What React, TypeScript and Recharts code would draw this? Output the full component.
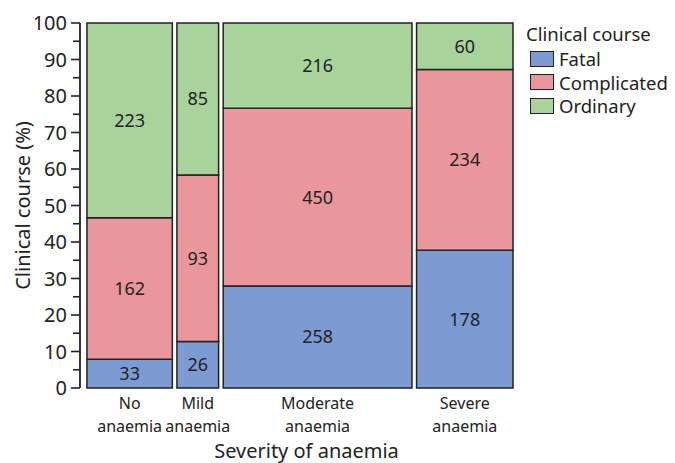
import React from "react";
import {
    ComposedChart,
    XAxis,
    YAxis,
    ReferenceArea,
    Line
} from "recharts";

// severity groups and counts per clinical course
const categoryLines = [
    ["No", "anaemia"],
    ["Mild", "anaemia"],
    ["Moderate", "anaemia"],
    ["Severe", "anaemia"]
];
const fatal = [33, 26, 258, 178];
const complicated = [162, 93, 450, 234];
const ordinary = [223, 85, 216, 60];
const courses = ["Fatal", "Complicated", "Ordinary"];
const courseColors = ["#7b9bd2", "#e9979c", "#a8d39b"];
const yTicks = [0, 5, 10, 15, 20, 25, 30, 35, 40, 45, 50, 55, 60, 65, 70, 75, 80, 85, 90, 95, 100];

const GAP = 22.5;
const LEFT_PAD = 34;
const FONT = "'Noto Sans', sans-serif";
const INK = "#222";

const series = [fatal, complicated, ordinary];
const totals = fatal.map((_, i) => fatal[i] + complicated[i] + ordinary[i]);

// column extents along the x scale (counts + gaps)
let cursor = 0;
const columns = totals.map((t, i) => {
    const x1 = cursor;
    const x2 = cursor + t;
    cursor = x2 + GAP;
    return { idx: i, x1, x2, center: (x1 + x2) / 2, top: 100 };
});
const xMax = cursor - GAP;

const cells: any[] = [];
columns.forEach((col) => {
    let acc = 0;
    series.forEach((s, k) => {
        const v = s[col.idx];
        const y1 = (acc / totals[col.idx]) * 100;
        acc += v;
        const y2 = (acc / totals[col.idx]) * 100;
        cells.push({ key: `${col.idx}-${k}`, x1: col.x1, x2: col.x2, y1, y2, value: v, color: courseColors[k] });
    });
});

const YTick = (props: any) => {
    const { x, y, payload } = props;
    const major = payload.value % 10 === 0;
    return (
        <g>
            <line x1={x - (major ? 9 : 7)} x2={x} y1={y} y2={y} stroke={INK} strokeWidth={1.6} />
            {major && (
                <text x={x - 13} y={y} dy="0.36em" textAnchor="end" fontSize={20} fill={INK} fontFamily={FONT}>
                    {payload.value}
                </text>
            )}
        </g>
    );
};

const XTick = (props: any) => {
    const { x, y, index } = props;
    const lines = categoryLines[index] || [];
    return (
        <g>
            {lines.map((l, i) => (
                <text key={i} x={x} y={y + 21 + i * 23} textAnchor="middle" fontSize={16} fill={INK} fontFamily={FONT}>
                    {l}
                </text>
            ))}
        </g>
    );
};

const LegendBox = () => (
    <div style={{ position: "absolute", top: 14, left: 518, width: 150, fontFamily: FONT, color: INK }}>
        <div style={{ fontSize: 18.5, lineHeight: "24px", marginBottom: 1, whiteSpace: "nowrap" }}>Clinical course</div>
        {courses.map((c, i) => (
            <div key={c} style={{ display: "flex", alignItems: "center", height: 23.5, paddingLeft: 4 }}>
                <span
                    style={{
                        display: "inline-block",
                        flex: "none",
                        width: 22,
                        height: 14,
                        background: courseColors[i],
                        border: `1.5px solid ${INK}`,
                        marginRight: 5
                    }}
                />
                <span style={{ fontSize: 18.5, whiteSpace: "nowrap" }}>{c}</span>
            </div>
        ))}
    </div>
);

export default function App() {
    return (
        <div style={{ position: "relative", width: 660, height: 455 }}>
            <ComposedChart
                width={660}
                height={455}
                data={columns}
                margin={{ top: 15, right: 155, bottom: 15, left: 0 }}
            >
                <XAxis
                    type="number"
                    dataKey="center"
                    domain={[-LEFT_PAD, xMax]}
                    ticks={columns.map((c) => c.center)}
                    tick={<XTick />}
                    tickLine={false}
                    axisLine={false}
                    tickSize={0}
                    tickMargin={0}
                    height={60}
                    allowDataOverflow
                    label={{
                        content: (p: any) => {
                            const vb = p.viewBox;
                            return (
                                <text x={vb.x + vb.width / 2 + 10} y={vb.y + 70} textAnchor="middle" fontSize={20} fill={INK} fontFamily={FONT}>
                                    Severity of anaemia
                                </text>
                            );
                        }
                    }}
                />
                <YAxis
                    type="number"
                    dataKey="top"
                    domain={[0, 100]}
                    ticks={yTicks}
                    interval={0}
                    width={72}
                    tick={<YTick />}
                    tickLine={false}
                    tickSize={0}
                    tickMargin={0}
                    allowDataOverflow
                    axisLine={{ stroke: INK, strokeWidth: 1.8 }}
                    label={{
                        content: (p: any) => {
                            const vb = p.viewBox;
                            const cx = vb.x + 14;
                            const cy = vb.y + vb.height / 2;
                            return (
                                <text x={cx} y={cy} transform={`rotate(-90 ${cx} ${cy})`} textAnchor="middle" dominantBaseline="central" fontSize={20} fill={INK} fontFamily={FONT}>
                                    Clinical course (%)
                                </text>
                            );
                        }
                    }}
                />
                <Line dataKey="top" stroke="none" dot={false} activeDot={false} isAnimationActive={false} legendType="none" />
                {cells.map((c) => (
                    <ReferenceArea
                        key={c.key}
                        x1={c.x1}
                        x2={c.x2}
                        y1={c.y1}
                        y2={c.y2}
                        fill={c.color}
                        fillOpacity={1}
                        stroke={INK}
                        strokeWidth={1.5}
                        strokeOpacity={1}
                        ifOverflow="visible"
                        label={{ value: c.value, position: "center", fill: INK, fontSize: 18, fontFamily: FONT }}
                    />
                ))}
            </ComposedChart>
            <LegendBox />
        </div>
    );
}
